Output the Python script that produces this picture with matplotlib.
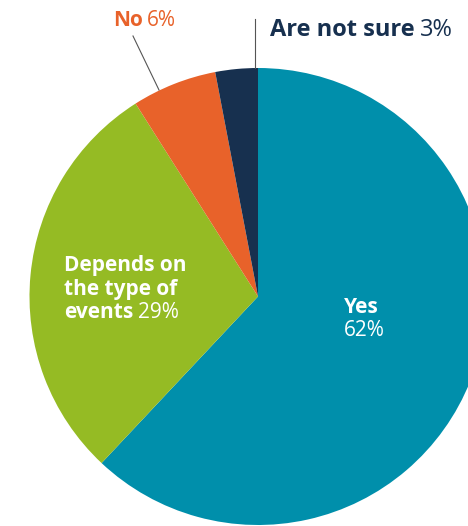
import matplotlib
matplotlib.use("Agg")
import matplotlib.pyplot as plt

labels = ["Yes", "Depends on the type of events", "No", "Are not sure"]
shares = [62, 29, 6, 3]
colors = ["#008fab", "#95bb24", "#e8622a", "#17304f"]

plt.rcParams['font.family'] = ['Open Sans', 'DejaVu Sans']

W, H = 468, 526
fig = plt.figure(figsize=(W / 100, H / 100), dpi=100)
ax = fig.add_axes([0, 0, 1, 1])

cx, cy, r = 258, H - 296.5, 228.5
ax.pie(shares, colors=colors, startangle=90, counterclock=False,
       center=(cx, cy), radius=r, frame=True,
       wedgeprops=dict(linewidth=0))
ax.set_xlim(0, W)
ax.set_ylim(0, H)
ax.set_aspect('equal')
ax.axis('off')

fs = 15
renderer = fig.canvas.get_renderer()


def two_part(x, y, bold, normal, color, size):
    # bold word followed by a regular-weight percentage on one line
    t = ax.text(x, y, bold, fontsize=size, fontweight='bold', color=color,
                ha='left', va='baseline')
    bb = t.get_window_extent(renderer=renderer)
    ax.text(bb.x1 + size * 0.3, y, normal, fontsize=size, color=color,
            ha='left', va='baseline')


# outside labels with leader lines
ax.plot([133, 159], [H - 36, H - 90], color="#555555", lw=0.8)
ax.plot([255, 255], [H - 19, H - 68], color="#555555", lw=0.8)
two_part(113, H - 26, "No", f"{shares[2]}%", colors[2], 15)
two_part(270, H - 36, "Are not sure", f"{shares[3]}%", colors[3], 17)

# inside labels
ax.text(64, H - 271, "Depends on", fontsize=fs, fontweight='bold',
        color='white', va='baseline')
ax.text(64, H - 295, "the type of", fontsize=fs, fontweight='bold',
        color='white', va='baseline')
two_part(64, H - 318, "events", f"{shares[1]}%", 'white', fs)

ax.text(344, H - 313, "Yes", fontsize=fs, fontweight='bold',
        color='white', va='baseline')
ax.text(344, H - 336, f"{shares[0]}%", fontsize=fs, color='white',
        va='baseline')

fig.savefig("out.png", dpi=100)
